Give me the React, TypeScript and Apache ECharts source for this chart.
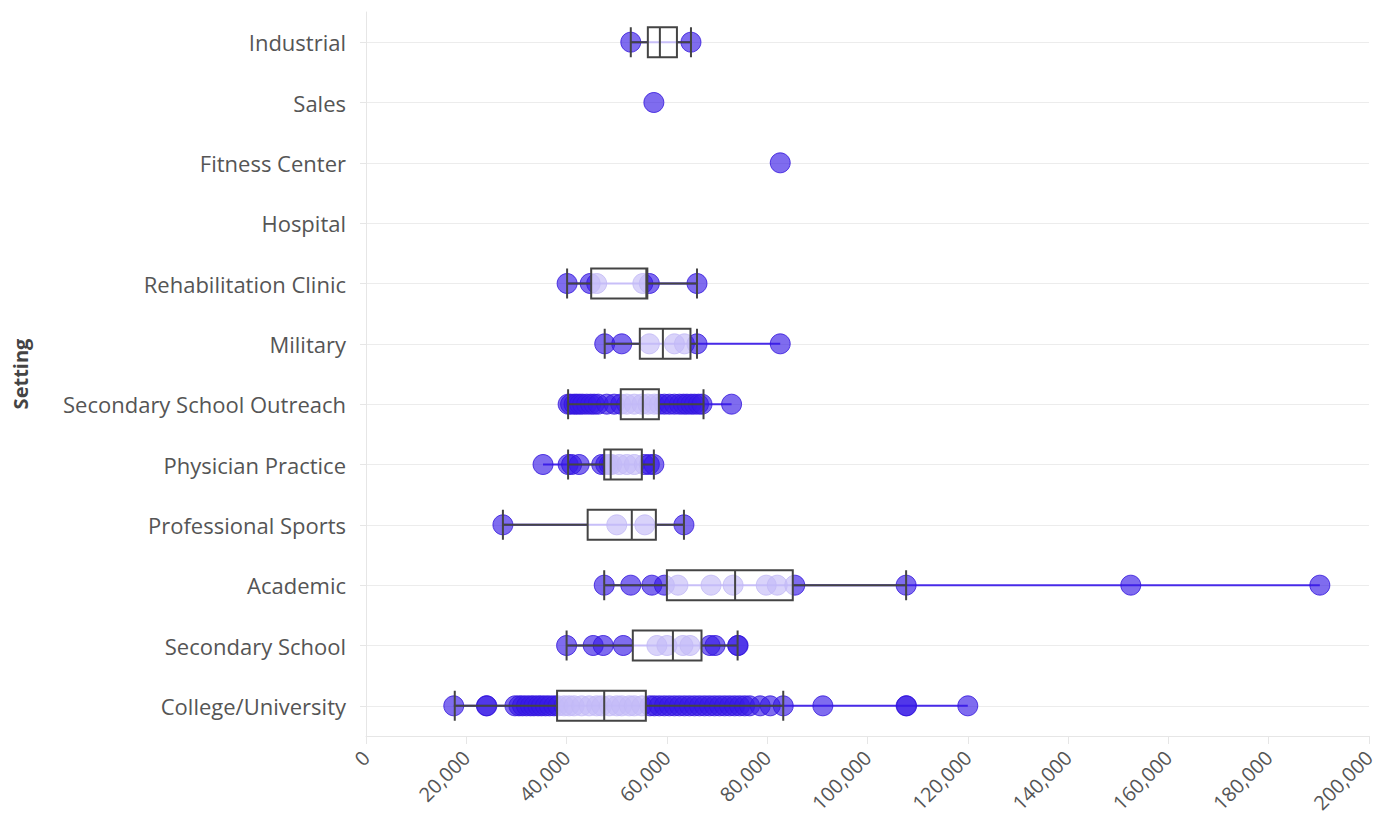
import React, { useEffect, useRef } from "react";
import * as echarts from "echarts";

// Categories from bottom to top
const categories = [
  "College/University",
  "Secondary School",
  "Academic",
  "Professional Sports",
  "Physician Practice",
  "Secondary School Outreach",
  "Military",
  "Rehabilitation Clinic",
  "Hospital",
  "Fitness Center",
  "Sales",
  "Industrial",
];

const collegeUniversity = [
  17500, 24000, 24100, 29700, 30500, 31200, 32000, 32800, 33500, 34300, 35000, 35800, 36600, 37500,
  38300, 39500, 40500, 41500, 43000, 44500, 46000, 47000, 48500, 50000, 51000, 52500, 53500, 55000,
  56600, 57500, 58500, 59500, 60500, 61500, 62500, 63500, 64500, 65500, 66500, 67500, 68500, 69500,
  70500, 71500, 72500, 73500, 74500, 75500, 76500, 78600, 80600, 83200, 91100, 107700, 107800, 120000,
];
const secondarySchool = [40000, 45300, 47300, 51300, 58000, 60000, 63200, 64600, 68600, 69600, 74100, 74200];
const academic = [47500, 52800, 57000, 59500, 62200, 68800, 73200, 79800, 82000, 85500, 107700, 152500, 190200];
const professionalSports = [27300, 50000, 55600, 63400];
const physicianPractice = [35300, 40300, 41000, 42500, 47000, 47800, 48500, 49000, 50500, 52000, 53500, 55500, 56500, 57400];
const secondarySchoolOutreach = [
  40300, 40800, 41500, 42000, 42600, 43200, 44000, 44800, 45500, 46300, 48000, 49500, 50800, 52000,
  53500, 55000, 56200, 57500, 58500, 59500, 60500, 61500, 62500, 63300, 64000, 64800, 65500, 66300,
  67000, 72900,
];
const military = [47600, 51000, 56500, 61500, 63500, 66000, 82600];
const rehabilitationClinic = [40100, 44700, 46000, 55200, 56500, 66000];
const hospital: number[] = [];
const fitnessCenter = [82600];
const sales = [57400];
const industrial = [52800, 64800];

const pointsByCategory = [
  collegeUniversity,
  secondarySchool,
  academic,
  professionalSports,
  physicianPractice,
  secondarySchoolOutreach,
  military,
  rehabilitationClinic,
  hospital,
  fitnessCenter,
  sales,
  industrial,
];

// [min, Q1, median, Q3, max] per category (null = no box)
const boxStats: (number[] | null)[] = [
  [17700, 38100, 47500, 55800, 83200],
  [40000, 53200, 61200, 66900, 74100],
  [47500, 60000, 73600, 85100, 107700],
  [27300, 44200, 53000, 57800, 63400],
  [40300, 47500, 48800, 55000, 57400],
  [40300, 50800, 55200, 58400, 67300],
  [47600, 54600, 59200, 64700, 66000],
  [40100, 44900, 55900, 56100, 66000],
  null,
  null,
  null,
  [52800, 56200, 58600, 62000, 64800],
];

const xTicks = { min: 0, max: 200000, interval: 20000 };

export default function App() {
  const ref = useRef<HTMLDivElement>(null);
  useEffect(() => {
    if (!ref.current) return;
    const chart = echarts.init(ref.current, undefined, { renderer: "svg" });

    const scatterData: number[][] = [];
    pointsByCategory.forEach((pts, ci) => pts.forEach((v) => scatterData.push([v, ci])));

    const rangeData: number[][] = [];
    pointsByCategory.forEach((pts, ci) => {
      if (pts.length > 1) rangeData.push([Math.min(...pts), ci, Math.max(...pts)]);
    });

    const boxData = boxStats.map((s) =>
      s ? { value: s } : { value: [0, 0, 0, 0, 0], itemStyle: { opacity: 0 } }
    );

    const font = "'Open Sans', 'Noto Sans', sans-serif";

    chart.setOption({
      animation: false,
      textStyle: { fontFamily: font },
      grid: { left: 366, right: 27, top: 12, bottom: 93, containLabel: false },
      xAxis: {
        type: "value",
        min: xTicks.min,
        max: xTicks.max,
        interval: xTicks.interval,
        axisLine: { show: true, lineStyle: { color: "#e6e6e6", width: 1 } },
        axisTick: { show: true, length: 8, lineStyle: { color: "#e6e6e6" } },
        splitLine: { show: false },
        axisLabel: {
          rotate: 45,
          margin: 18,
          color: "#555",
          fontSize: 20,
          fontFamily: font,
          formatter: (v: number) => v.toLocaleString("en-US"),
        },
      },
      yAxis: {
        type: "category",
        data: categories,
        name: "Setting",
        nameLocation: "middle",
        nameRotate: 90,
        nameGap: 336,
        nameTextStyle: { fontSize: 20, fontWeight: "bold", color: "#444", fontFamily: font },
        axisLine: { show: true, lineStyle: { color: "#e6e6e6", width: 1 } },
        axisTick: { show: true, alignWithLabel: true, length: 6, lineStyle: { color: "#e6e6e6" } },
        splitLine: { show: true, alignWithLabel: true, lineStyle: { color: "#ececec", width: 1 } },
        axisLabel: { color: "#555", fontSize: 22, margin: 20, fontFamily: font },
      },
      series: [
        {
          type: "custom",
          z: 1,
          data: rangeData,
          encode: { x: [0, 2], y: 1 },
          renderItem: (params: any, api: any) => {
            const p1 = api.coord([api.value(0), api.value(1)]);
            const p2 = api.coord([api.value(2), api.value(1)]);
            return {
              type: "line",
              shape: { x1: p1[0], y1: p1[1], x2: p2[0], y2: p2[1] },
              style: { stroke: "rgba(62,32,232,0.95)", lineWidth: 2 },
            };
          },
        },
        {
          type: "scatter",
          z: 2,
          data: scatterData,
          symbolSize: 20,
          itemStyle: {
            color: "rgba(55,25,230,0.8)",
            borderColor: "rgba(50,20,220,1)",
            borderWidth: 1,
          },
        },
        {
          type: "boxplot",
          z: 3,
          data: boxData,
          boxWidth: [30, 30],
          itemStyle: {
            color: "rgba(255,255,255,0.7)",
            borderColor: "#444",
            borderWidth: 2,
          },
        },
      ],
    });
    return () => chart.dispose();
  }, []);
  return (
    <div
      ref={ref}
      style={{ position: "absolute", left: 0, top: 0, width: 1396, height: 829 }}
    />
  );
}
